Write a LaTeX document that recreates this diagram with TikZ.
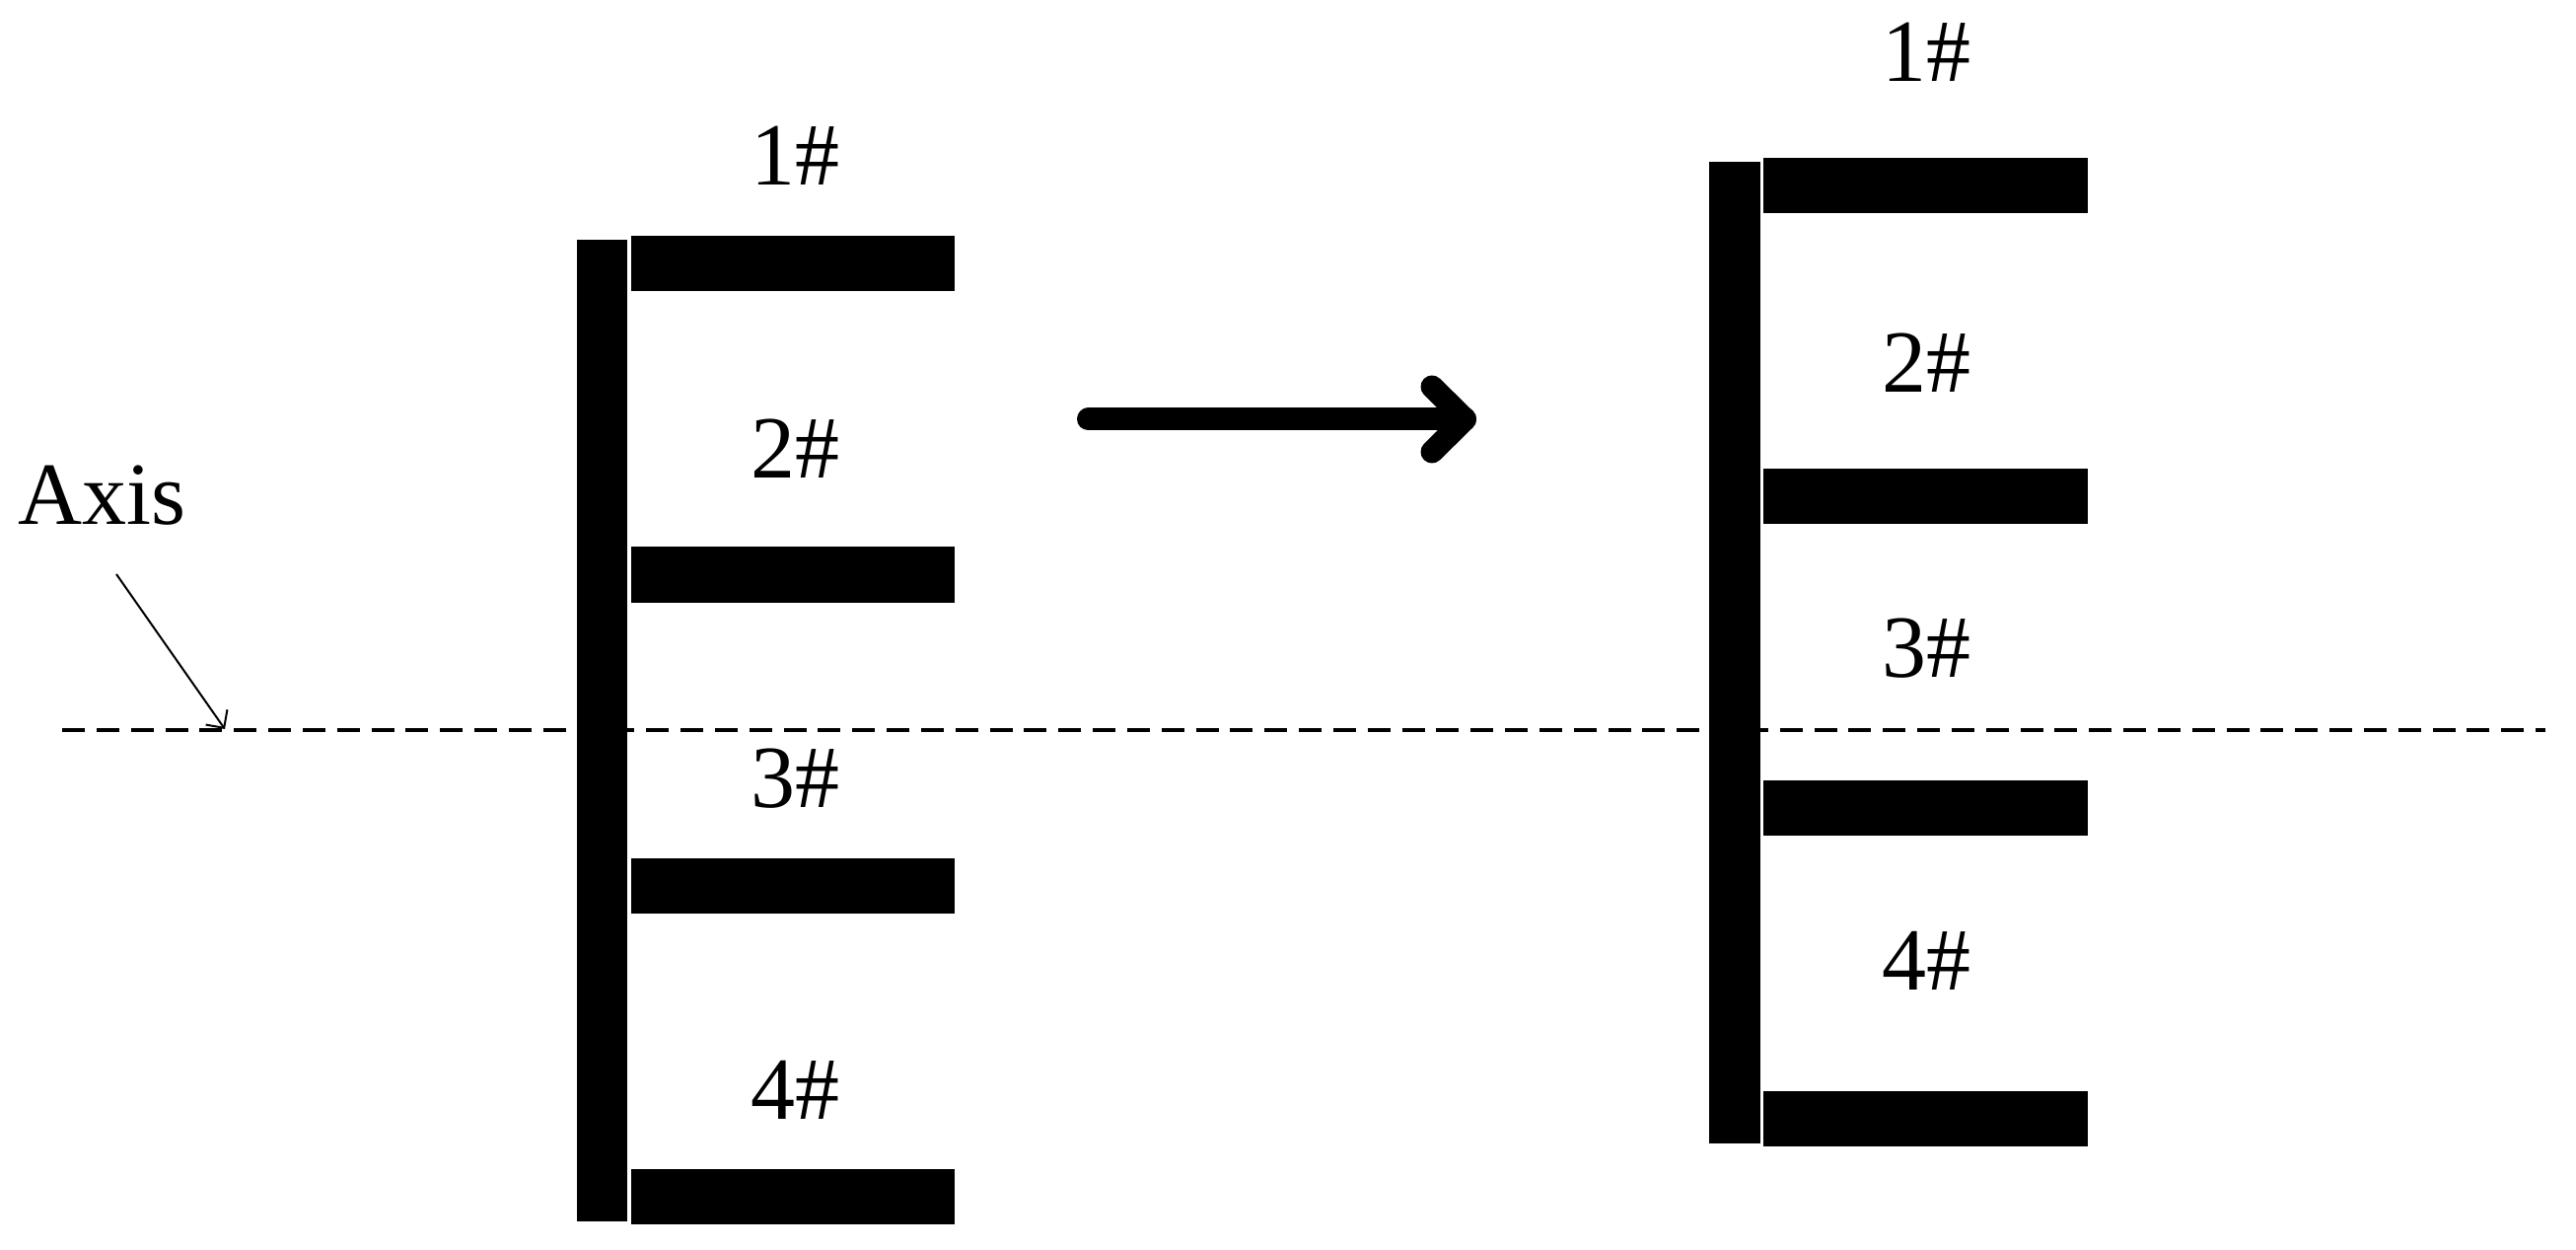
\documentclass[tikz,border=0pt]{standalone}
\usepackage{fontspec}
\setmainfont{Liberation Serif}
\usetikzlibrary{arrows.meta}
\begin{document}
\begin{tikzpicture}[x=0.3pt,y=-0.3pt,
  bar/.style={fill=black},
  lbl/.style={inner sep=0pt,anchor=base,font=\fontsize{27}{32}\selectfont},
  axisline/.style={line width=1pt,dash pattern=on 6.9pt off 3.55pt},
  pointer/.style={line width=0.6pt,-{Straight Barb[length=4pt,width=8pt]}},
  bigarrow/.style={line width=6.9pt,line cap=round,line join=round}]
\useasboundingbox (0,0) rectangle (2612,1267);
% axis dashed line
\coordinate (axL) at (63,740);
\coordinate (axR) at (2581,740);
\draw[axisline] (axL) -- (axR);
% left assembly
\fill[bar] (585,243) rectangle (636,1238);
\foreach \k in {0,1,2,3}{
  \fill[bar] (640,{239+315.33*\k}) rectangle (968,{295.5+315.33*\k});
}
\node[lbl] (L1) at (806,188) {1\#};
\node[lbl] (L2) at (806,485) {2\#};
\node[lbl] (L3) at (806,819) {3\#};
\node[lbl] (L4) at (806,1134) {4\#};
% right assembly
\fill[bar] (1733,164) rectangle (1785,1159);
\foreach \k in {0,1,2,3}{
  \fill[bar] (1788,{160+315.33*\k}) rectangle (2117,{216+315.33*\k});
}
\node[lbl] (R1) at (1953,83) {1\#};
\node[lbl] (R2) at (1953,398) {2\#};
\node[lbl] (R3) at (1953,687) {3\#};
\node[lbl] (R4) at (1953,1003) {4\#};
% Axis label and pointer
\node[lbl,anchor=base west] (axis) at (18,532) {Axis};
\coordinate (pS) at (118,582);
\coordinate (pE) at (228,739);
\draw[pointer] (pS) -- (pE);
% big arrow
\coordinate (aS) at (1103.5,425);
\coordinate (aT) at (1485.5,425);
\coordinate (aU) at (1452,392);
\coordinate (aD) at (1452,458);
\draw[bigarrow] (aS) -- (aT);
\draw[bigarrow] (aU) -- (aT) -- (aD);
\end{tikzpicture}
\end{document}
